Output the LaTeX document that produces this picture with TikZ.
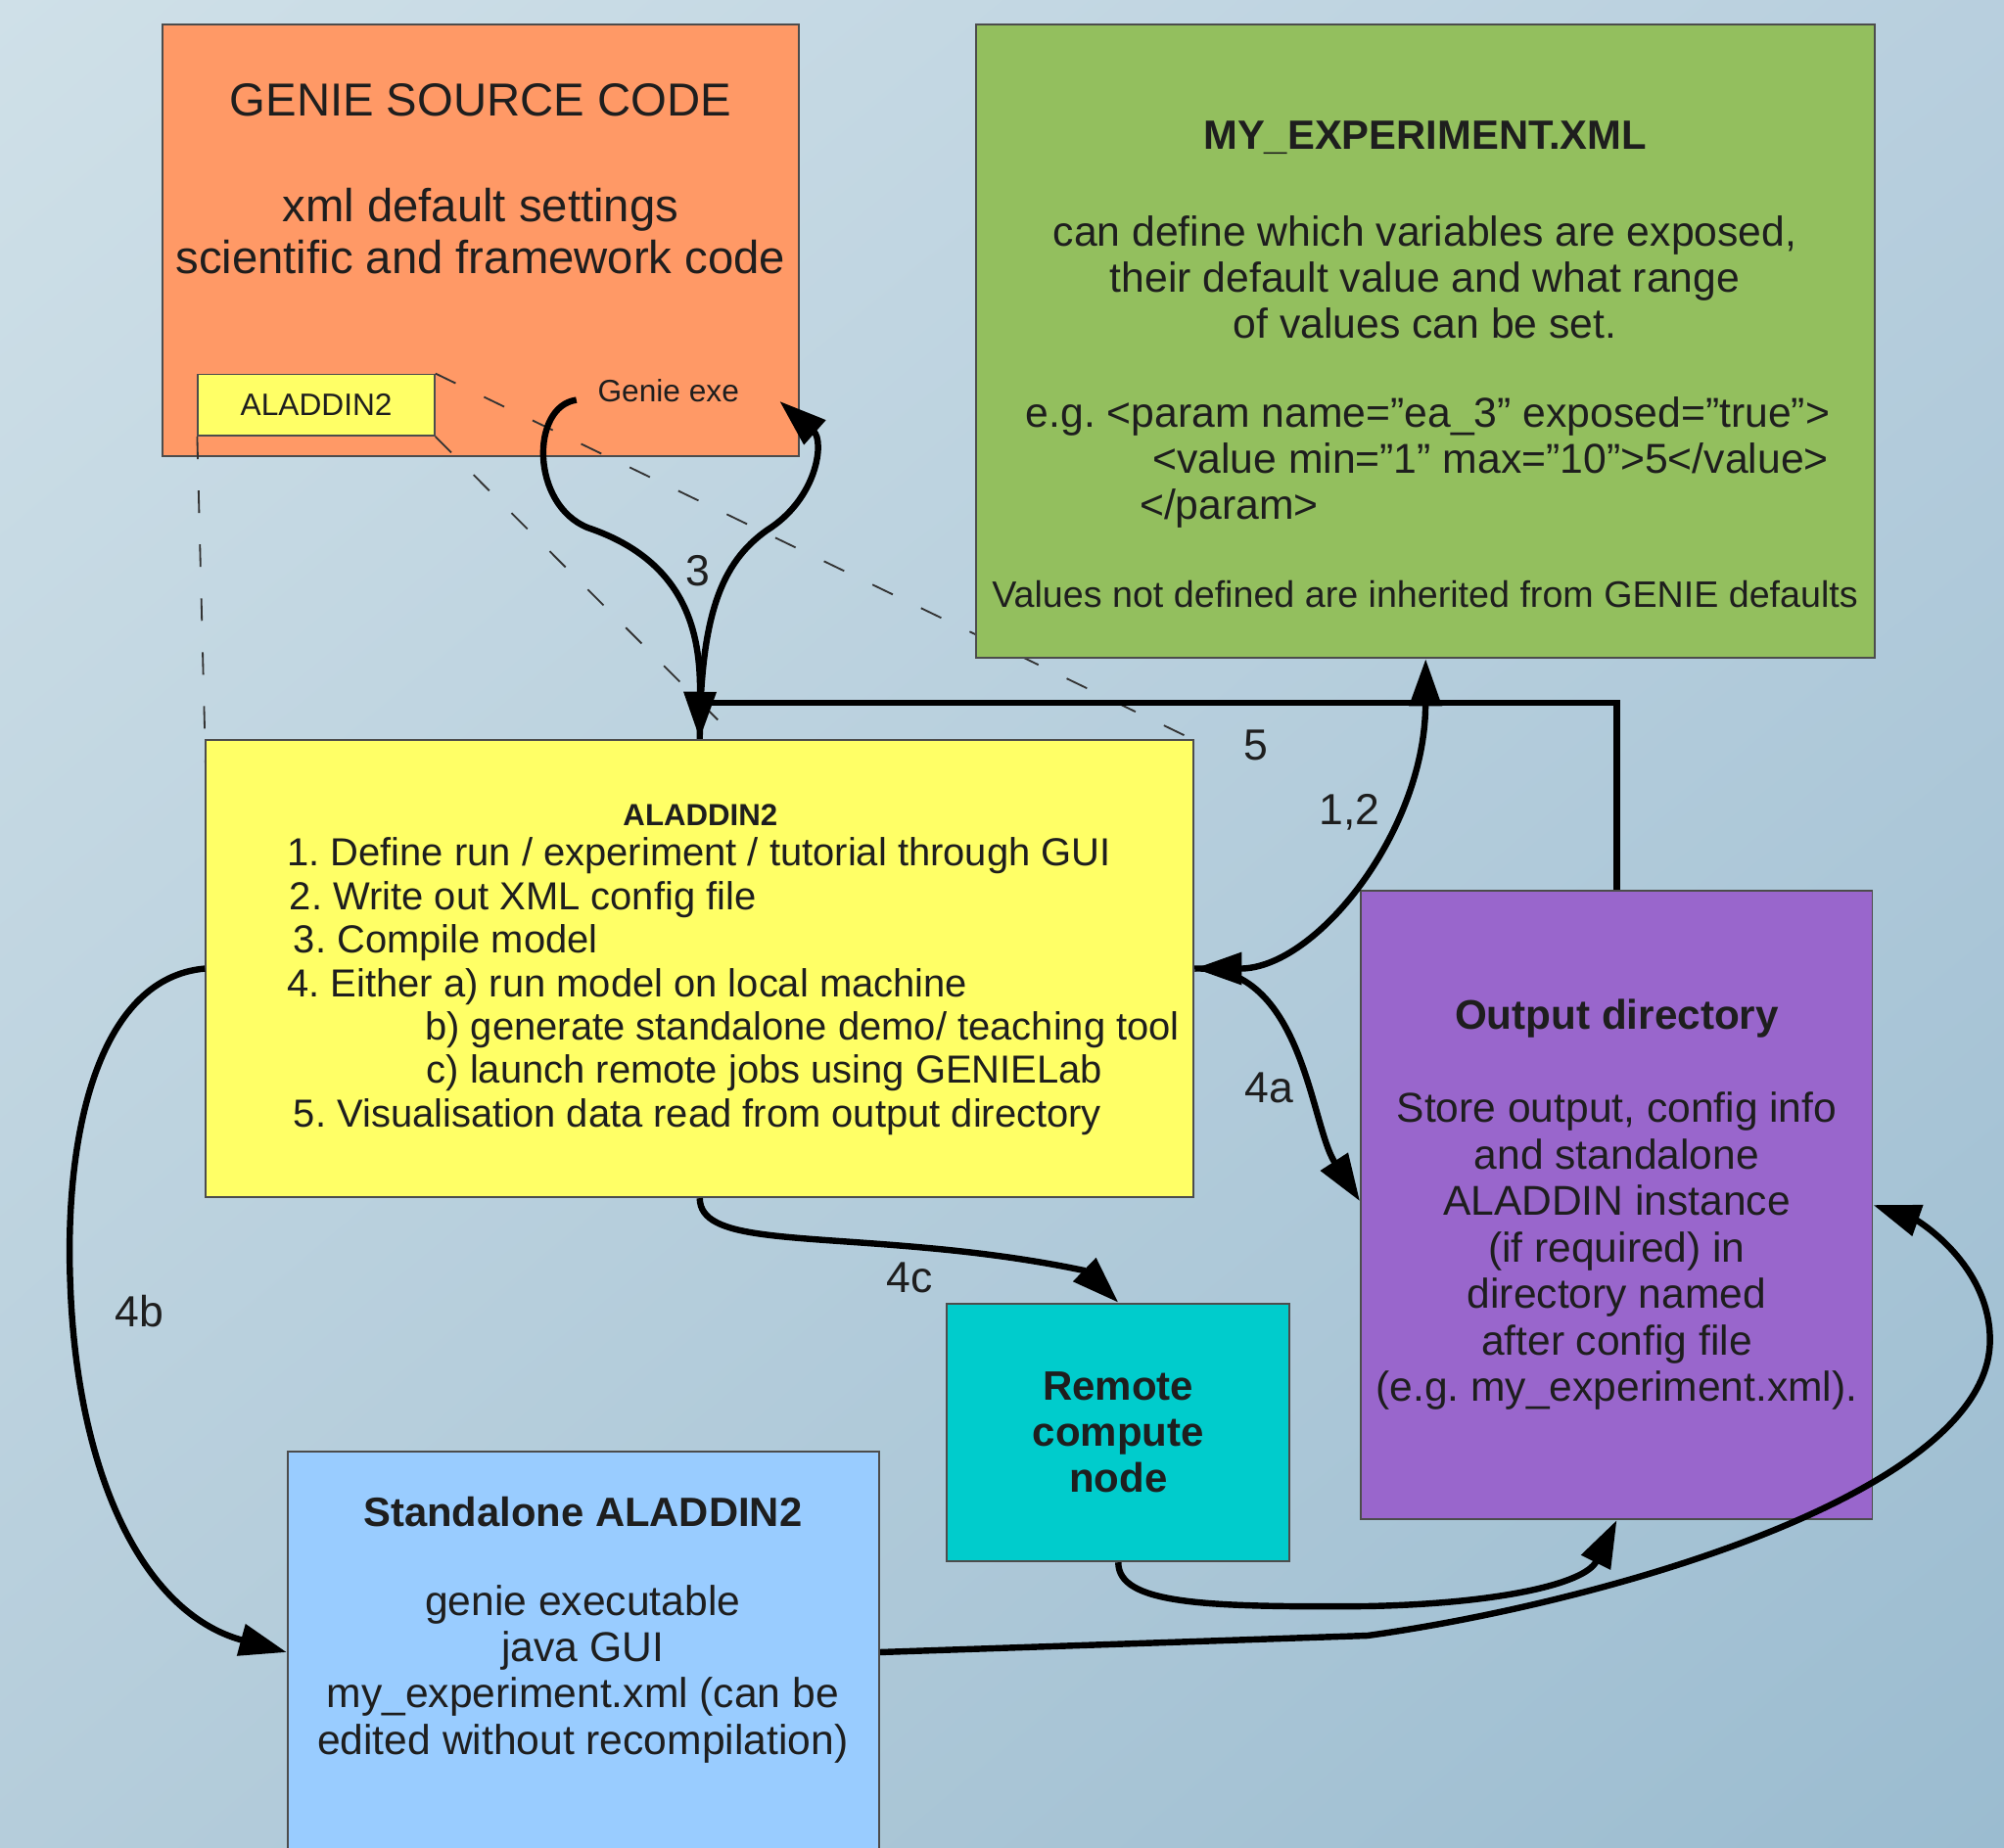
\documentclass[tikz,border=0pt]{standalone}
\usepackage{fontspec}
\setmainfont{Liberation Sans}
\usetikzlibrary{arrows.meta,fit,shadings}
\definecolor{bgtl}{RGB}{207,224,232}
\definecolor{bgtr}{RGB}{184,207,222}
\definecolor{bgbl}{RGB}{181,205,219}
\definecolor{bgbr}{RGB}{155,188,208}
\definecolor{srcorange}{RGB}{255,153,102}
\definecolor{xmlgreen}{RGB}{147,191,94}
\definecolor{alyellow}{RGB}{255,255,102}
\definecolor{outpurple}{RGB}{153,102,204}
\definecolor{remotecyan}{RGB}{0,204,204}
\definecolor{salblue}{RGB}{153,204,255}
\definecolor{ink}{RGB}{30,30,30}
\frenchspacing

\tikzset{
  box/.style={draw=black!70, line width=0.4pt, inner sep=0pt},
  txt/.style={text=ink, inner sep=0pt},
  link/.style={line width=1.4pt, black},
  arr/.style={link, -{Triangle[length=10.5pt,width=7pt]}},
  dual/.style={link, {Triangle[length=10.5pt,width=7pt]}-{Triangle[length=10.5pt,width=7pt]}},
  callout/.style={black!80, line width=0.4pt, dash pattern=on 5pt off 7pt},
  lbl/.style={txt, font=\fontsize{9.7}{11}\selectfont},
}

\begin{document}
\begin{tikzpicture}[x=0.01cm, y=-0.01cm]
\useasboundingbox (0,0) rectangle (1568,1446);
\clip (0,0) rectangle (1568,1446);
\shade[upper left=bgtl, upper right=bgtr, lower left=bgbl, lower right=bgbr] (0,0) rectangle (1568,1446);

% source box
\node[box, fill=srcorange, fit={(127,19) (625,357)}] (src) {};
\node[txt, font=\fontsize{10.3}{12}\selectfont] (srctitle) at (376,78) {GENIE SOURCE CODE};
\node[txt, font=\fontsize{10.3}{11.67}\selectfont, align=center] (srcbody) at (376,181)
  {xml default settings\\scientific and framework code};
\node[box, fill=alyellow, fit={(155,293) (340,341)}] (alsmall) {};
\node[txt, font=\fontsize{6.9}{8}\selectfont] (alsmalltxt) at (alsmall.center) {ALADDIN2};
\node[txt, font=\fontsize{6.9}{8}\selectfont] (gexe) at (523,306) {Genie exe};

% zoom lines
\coordinate (cw) at (161,605);
\draw[callout] (alsmall.north east) -- (934,579);
\draw[callout] (alsmall.south east) -- (934,937);
\draw[callout] (alsmall.south west) -- (cw);

% experiment file
\node[box, fill=xmlgreen, fit={(764,19) (1467,515)}] (xml) {};
\node[txt, font=\bfseries\fontsize{9.1}{11}\selectfont] (xmltitle) at (1115,108) {MY\_EXPERIMENT.XML};
\node[txt, font=\fontsize{9.3}{10.24}\selectfont, align=center] (xmlbody) at (1115,217)
  {can define which variables are exposed,\\their default value and what range\\of values can be set.};
\node[txt, font=\fontsize{9.3}{10.24}\selectfont, align=left, anchor=west] (xmlex) at (802,362)
  {e.g. <param name=”ea\_3” exposed=”true”>\\
   \hspace*{0.99cm}<value min=”1” max=”10”>5</value>\\
   \hspace*{0.89cm}</param>};
\node[txt, font=\fontsize{8.2}{10}\selectfont] (xmlnote) at (1115,465)
  {Values not defined are inherited from GENIE defaults};

% aladdin
\node[box, fill=alyellow, fit={(161,579) (934,937)}] (aladdin) {};
\node[txt, font=\bfseries\fontsize{6.8}{8}\selectfont] (altitle) at (548,638) {ALADDIN2};
\node[txt, font=\fontsize{8.7}{9.67}\selectfont, align=left, anchor=west] (allist) at (224,772)
  {1. Define run / experiment / tutorial through GUI\\
   \hspace*{0.02cm}2. Write out XML config file\\
   \hspace*{0.05cm}3. Compile model\\
   4. Either a) run model on local machine\\
   \hspace*{1.08cm}b) generate standalone demo/ teaching tool\\
   \hspace*{1.09cm}c) launch remote jobs using GENIELab\\
   \hspace*{0.05cm}5. Visualisation data read from output directory};

% output directory
\node[box, fill=outpurple, fit={(1065,697) (1465,1189)}] (outdir) {};
\node[txt, font=\bfseries\fontsize{9.2}{11}\selectfont] (outtitle) at (1265,797) {Output directory};
\node[txt, font=\fontsize{9.27}{10.34}\selectfont, align=center] (outbody) at (1265,979)
  {Store output, config info\\and standalone\\ALADDIN instance\\(if required) in\\directory named\\after config file\\(e.g. my\_experiment.xml).};

% remote node
\node[box, fill=remotecyan, fit={(741,1020) (1009,1222)}] (remote) {};
\node[txt, font=\bfseries\fontsize{9.15}{10.24}\selectfont, align=center] (remotetxt) at (875,1121)
  {Remote\\compute\\node};

% standalone
\node[box, fill=salblue, fit={(225,1136) (688,1450)}] (standalone) {};
\node[txt, font=\bfseries\fontsize{9.1}{11}\selectfont] (saltitle) at (456,1183) {Standalone ALADDIN2};
\node[txt, font=\fontsize{9.28}{10.33}\selectfont, align=center] (salbody) at (456,1310)
  {genie executable\\java GUI\\my\_experiment.xml (can be\\edited without recompilation)};

% connectors
\coordinate (g3out) at (451,313);
\coordinate (g3in) at (610,314);
\coordinate (j5) at (548,550);
\coordinate (o4a) at (1064,940);
\coordinate (b7) at (1070,1280);

\draw[link] (outdir.north) |- (j5);
\draw[arr] (g3out) .. controls (415,318) and (415,395) .. (460,413) .. controls (540,440) and (548,500) .. (aladdin.north);
\draw[arr] (aladdin.north) .. controls (548,480) and (565,440) .. (600,415) .. controls (640,390) and (645,345) .. (g3in);
\draw[dual] (aladdin.east) .. controls (1030,758) and (1115,650) .. (xml.south);
\draw[arr] (aladdin.east) .. controls (1020,755) and (1025,880) .. (o4a);
\draw[arr] (aladdin.south) .. controls (548,972) and (620,966) .. (740,978) .. controls (810,985) and (850,995) .. (remote.north);
\draw[arr] (aladdin.west) .. controls (80,765) and (50,880) .. (55,1005) .. controls (60,1150) and (110,1262) .. (standalone.west);
\draw[arr] (remote.south) .. controls (875,1255) and (940,1258) .. (1070,1257) .. controls (1170,1255) and (1240,1240) .. (outdir.south);
\draw[arr] (standalone.east) -- (b7) .. controls (1250,1255) and (1555,1170) .. (1557,1050) .. controls (1558,990) and (1500,955) .. (outdir.east);

% labels
\node[lbl] (l3) at (546,447) {3};
\node[lbl] (l5) at (983,583) {5};
\node[lbl] (l12) at (1056,636) {1,2};
\node[lbl] (l4a) at (993,851) {4a};
\node[lbl] (l4b) at (109,1026) {4b};
\node[lbl] (l4c) at (712,1000) {4c};
\end{tikzpicture}
\end{document}
